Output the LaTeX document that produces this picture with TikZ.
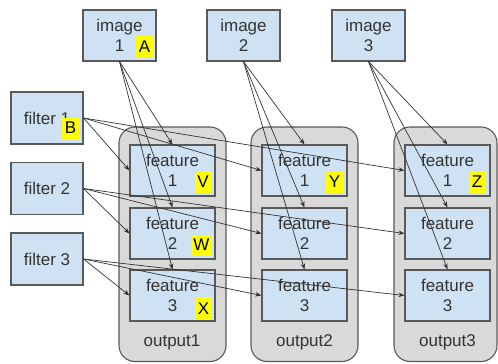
\documentclass[tikz,border=0pt]{standalone}
\usepackage{fontspec}
\setmainfont{Liberation Sans}
\usetikzlibrary{arrows.meta}
\definecolor{boxblue}{HTML}{CFE2F3}
\definecolor{groupgray}{HTML}{D9D9D9}
\definecolor{edgegray}{HTML}{595959}
\definecolor{hilite}{HTML}{FFFF00}
\definecolor{inktext}{HTML}{333333}
\begin{document}
\begin{tikzpicture}[x=1pt,y=-1pt,
  every node/.style={font=\fontsize{17}{20}\selectfont, text=inktext},
  cell/.style={draw=edgegray, line width=1.1pt, fill=boxblue,
    minimum width=73pt, minimum height=51pt, align=center, inner sep=0pt},
  filt/.style={cell, minimum width=72pt, minimum height=52pt},
  feat/.style={cell, minimum width=85pt},
  group/.style={draw=edgegray, line width=1.1pt, fill=groupgray,
    rounded corners=16pt, minimum height=234.5pt, inner sep=0pt},
  hl/.style={fill=hilite, inner xsep=1.5pt, inner ysep=0pt,
    minimum width=17pt, minimum height=21pt, text=black},
  link/.style={draw=black!80, line width=0.7pt,
    -{Stealth[length=6pt,width=4.5pt]}}
]
\useasboundingbox (0,0) rectangle (498,364);

% output groups
\node[group, minimum width=107pt] (out1) at (172.5,244.25) {};
\node[group, minimum width=107pt] (out2) at (304.5,244.25) {};
\node[group, minimum width=103pt] (out3) at (445.5,244.25) {};
\node (lab1) at (172,342) {output1};
\node (lab2) at (304.5,342) {output2};
\node (lab3) at (447.5,342) {output3};

% feature maps
\foreach \c/\x in {1/172.5, 2/304.5, 3/447.5}{
  \node[feat] (f\c1) at (\x,170.5) {feature\\1};
  \node[feat] (f\c2) at (\x,233.5) {feature\\2};
  \node[feat] (f\c3) at (\x,295.5) {feature\\3};
}

% inputs
\node[cell] (img1) at (119.5,35.5) {image\\1};
\node[cell] (img2) at (243.5,35.5) {image\\2};
\node[cell] (img3) at (368.5,35.5) {image\\3};
\node[filt] (fil1) at (47,118) {filter 1};
\node[filt] (fil2) at (47,188.5) {filter 2};
\node[filt] (fil3) at (47,259) {filter 3};

% highlighted letters
\node[hl] (hA) at (144.5,46.5) {A};
\node[hl] (hB) at (70.5,128) {B};
\node[hl] (hV) at (203,182) {V};
\node[hl] (hW) at (201.5,245) {W};
\node[hl] (hX) at (203.5,308.5) {X};
\node[hl] (hY) at (334.5,182) {Y};
\node[hl] (hZ) at (477,182) {Z};

% image -> features of its own output
\foreach \c in {1,2,3}{
  \foreach \r in {1,2,3}{
    \draw[link] (img\c.south) -- (f\c\r.north);
  }
}
% filter -> matching feature of every output
\foreach \r in {1,2,3}{
  \foreach \c in {1,2,3}{
    \draw[link] (fil\r.east) -- (f\c\r.west);
  }
}
\end{tikzpicture}
\end{document}
